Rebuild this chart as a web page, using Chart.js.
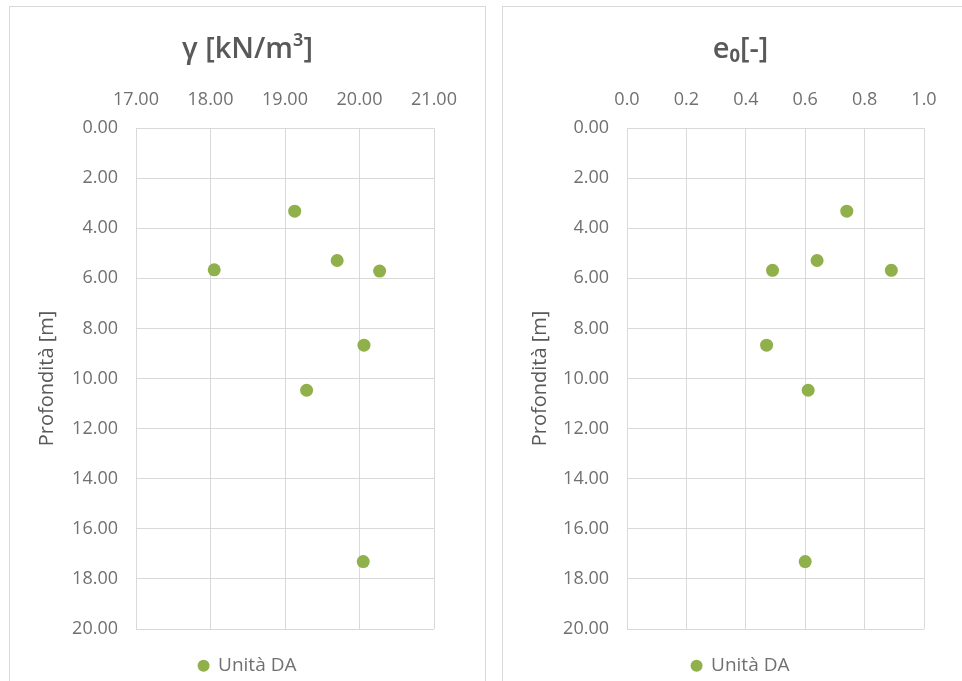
<!DOCTYPE html>
<html>
<head>
<meta charset="utf-8">
<script src="https://cdn.jsdelivr.net/npm/chart.js@4.4.1/dist/chart.umd.min.js"></script>
<style>
  html, body { margin: 0; padding: 0; background: #fff; overflow: hidden; width: 962px; height: 681px; }
  .panel { position: absolute; top: 6px; width: 475px; height: 700px; border: 1px solid #d9d9d9; background: #fff; }
  #p1 { left: 9px; }
  #p2 { left: 502px; }
  canvas { display: block; }
</style>
</head>
<body>
<div class="panel" id="p1"><canvas id="c1" width="475" height="680"></canvas></div>
<div class="panel" id="p2"><canvas id="c2" width="475" height="680"></canvas></div>
<script>
// valori
const seriesName = 'Unità DA';
const depthTicks = [0, 2, 4, 6, 8, 10, 12, 14, 16, 18, 20];

const gammaTicks = [17, 18, 19, 20, 21];
const gammaDepth = [3.32, 5.66, 5.29, 5.71, 8.67, 10.47, 17.31];
const gammaVals = [19.13, 18.05, 19.70, 20.27, 20.06, 19.29, 20.05];

const e0Ticks = [0, 0.2, 0.4, 0.6, 0.8, 1.0];
const e0Depth = [3.32, 5.29, 5.68, 5.68, 8.67, 10.47, 17.31];
const e0Vals = [0.74, 0.64, 0.49, 0.89, 0.47, 0.61, 0.60];

const green = '#8fb04a';
const grid = '#d9d9d9';
const txt = '#707070';
const fam = '"Open Sans", "Liberation Sans", sans-serif';

function makeChart(id, title, xTicks, xDec, xs, ys, yWidth, rWidth) {
  const pts = xs.map((v, i) => ({ x: v, y: ys[i] }));
  return new Chart(document.getElementById(id), {
    type: 'scatter',
    data: {
      datasets: [{
        label: seriesName,
        data: pts,
        backgroundColor: green,
        borderColor: green,
        pointRadius: 6.5,
        pointBorderWidth: 0
      }]
    },
    options: {
      responsive: false,
      animation: false,
      devicePixelRatio: 1,
      layout: { padding: { top: 0, left: 0, right: 0, bottom: 1.8 } },
      plugins: {
        tooltip: { enabled: false },
        title: {
          display: true,
          text: title,
          color: '#595959',
          font: { family: fam, size: 29, weight: '600', lineHeight: 1.2 },
          padding: { top: 25.2, bottom: 0 }
        },
        legend: {
          position: 'bottom',
          labels: {
            usePointStyle: true,
            pointStyle: 'circle',
            boxWidth: 10,
            boxHeight: 8.5,
            padding: 27.2,
            color: txt,
            font: { family: fam, size: 19 }
          }
        }
      },
      scales: {
        x: {
          type: 'linear',
          position: 'top',
          min: xTicks[0],
          max: xTicks[xTicks.length - 1],
          afterBuildTicks: s => { s.ticks = xTicks.map(v => ({ value: v })); },
          afterFit: s => { s.height = 61; },
          grid: { color: grid, drawTicks: false },
          border: { color: grid },
          ticks: {
            padding: 17,
            color: txt,
            font: { family: fam, size: 18 },
            callback: v => Number(v).toFixed(xDec)
          }
        },
        y: {
          type: 'linear',
          position: 'left',
          reverse: true,
          min: 0,
          max: 20,
          afterBuildTicks: s => { s.ticks = depthTicks.map(v => ({ value: v })); },
          afterFit: s => { s.width = yWidth; },
          grid: { color: grid, drawTicks: false },
          border: { color: grid },
          title: {
            display: true,
            text: 'Profondità [m]',
            color: '#595959',
            font: { family: fam, size: 20 },
            padding: { top: 25, bottom: 0 }
          },
          ticks: {
            padding: 18,
            color: txt,
            font: { family: fam, size: 18 },
            callback: v => Number(v).toFixed(2)
          }
        },
        yr: {
          type: 'linear',
          position: 'right',
          display: true,
          afterFit: s => { s.width = rWidth; },
          grid: { display: false, drawTicks: false },
          border: { display: false },
          ticks: { display: false }
        }
      }
    }
  });
}

makeChart('c1', 'γ [kN/m³]', gammaTicks, 2, gammaVals, gammaDepth, 126, 51);
makeChart('c2', 'e₀[-]', e0Ticks, 1, e0Vals, e0Depth, 124, 54);
</script>
</body>
</html>
